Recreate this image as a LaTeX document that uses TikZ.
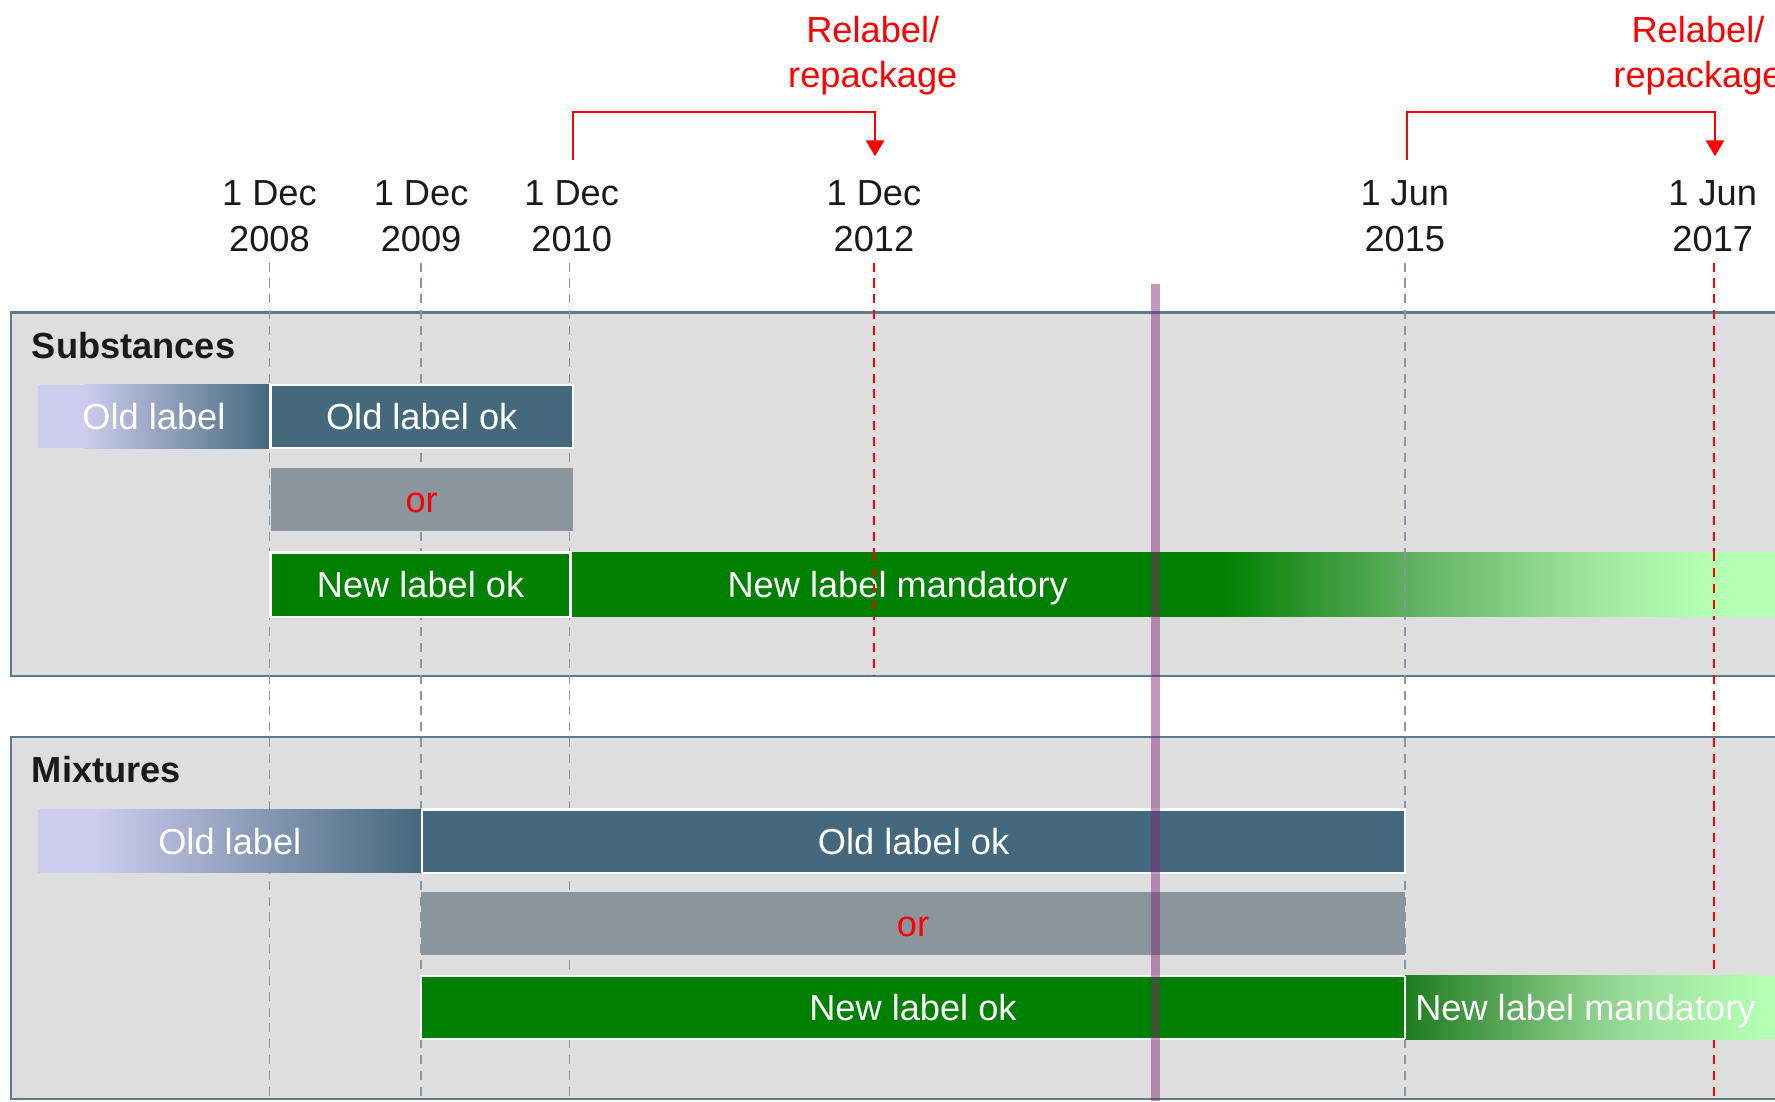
\documentclass[tikz,border=0pt]{standalone}
\usepackage{fontspec}
\setmainfont{Liberation Sans}
\usetikzlibrary{arrows.meta}

\definecolor{steel}{HTML}{44687C}
\definecolor{lav}{HTML}{CCCCEE}
\definecolor{orgray}{HTML}{8A959E}
\definecolor{okgreen}{HTML}{008000}
\definecolor{palegreen}{HTML}{B3FFB3}
\definecolor{fadeA}{RGB}{95,174,96}
\definecolor{fadeB}{RGB}{160,230,160}
\definecolor{mixA}{RGB}{30,125,30}
\definecolor{mixB}{RGB}{80,160,80}
\definecolor{mixC}{RGB}{133,204,133}
\definecolor{mixD}{RGB}{160,228,160}
\definecolor{panelfill}{HTML}{DEDEDE}
\definecolor{panelline}{HTML}{5E7B8D}
\definecolor{gridgray}{HTML}{8A97A3}
\definecolor{todaymark}{HTML}{7E2972}
\definecolor{ink}{HTML}{1A1A1A}

\begin{document}
\begin{tikzpicture}[x=1pt,y=-1pt,
  every node/.style={font=\fontsize{32}{40}\selectfont},
  panel/.style={fill=panelfill, draw=panelline, line width=2pt},
  bartext/.style={text=white, text height=28pt, text depth=5pt},
  bar/.style={rectangle, anchor=north west, inner sep=0pt, outer sep=0pt,
              minimum height=56pt, bartext},
  framed/.style={bar, draw=white, line width=2pt},
  grid/.style={draw=gridgray, line width=1.5pt, dash pattern=on 8pt off 6pt},
  redgrid/.style={draw=red, line width=1.8pt, dash pattern=on 8pt off 6pt},
  datelabel/.style={align=center, text=ink},
  relabel/.style={align=center, text=red},
  bracket/.style={draw=red, line width=2pt, -{Triangle[width=16pt,length=14pt]}},
  heading/.style={anchor=west, inner sep=0pt, font=\fontsize{32}{40}\selectfont\bfseries, text=ink}
]
\useasboundingbox (0,0) rectangle (1568,973);
\clip (0,0) rectangle (1568,973);

% panels
\draw[panel] (10,276) rectangle (1600,597);
\draw[panel] (10,651) rectangle (1600,971);

% date labels along the top
\node[datelabel] (d2008) at (238,191) {1 Dec\\2008};
\node[datelabel] (d2009) at (372,191) {1 Dec\\2009};
\node[datelabel] (d2010) at (505,191) {1 Dec\\2010};
\node[datelabel] (d2012) at (772,191) {1 Dec\\2012};
\node[datelabel] (d2015) at (1241,191) {1 Jun\\2015};
\node[datelabel] (d2017) at (1513,191) {1 Jun\\2017};

\node[relabel] (r1) at (771,49) {Relabel/\\repackage};
\node[relabel] (r2) at (1500,49) {Relabel/\\repackage};

% anchor points for the time lines and brackets
\coordinate (t2008) at (238,232);
\coordinate (t2009) at (372,232);
\coordinate (t2010) at (503,232);
\coordinate (t2012) at (772,232);
\coordinate (t2015) at (1241,232);
\coordinate (t2017) at (1514,232);
\coordinate (bottom) at (0,973);
\coordinate (subbottom) at (0,597);
\coordinate (mandtop) at (0,488);
\coordinate (mandbot) at (0,545);

\coordinate (b1a) at (506,141);
\coordinate (b1b) at (773,99);
\coordinate (b1c) at (773,138);
\coordinate (b2a) at (1243,141);
\coordinate (b2b) at (1515,99);
\coordinate (b2c) at (1515,138);

\draw[bracket] (b1a) |- (b1b) -- (b1c);
\draw[bracket] (b2a) |- (b2b) -- (b2c);

% time lines
\foreach \t in {t2008,t2009,t2010,t2015}
  \draw[grid] (\t) -- (\t |- bottom);
\draw[redgrid] (t2012) -- (t2012 |- subbottom);
\draw[redgrid] (t2017) -- (t2017 |- bottom);

% headings
\node[heading] (hsub) at (28,305) {Substances};
\node[heading] (hmix) at (28,680) {Mixtures};

% ---- Substances ----
\fill[lav] (34,340) rectangle (75,396);
\shade[left color=lav, right color=steel] (74,340) rectangle (239,396);
\node[bartext] (sold) at (136,368) {Old label};

\node[framed, fill=steel, minimum width=267pt] (sok) at (239,340) {Old label ok};
\node[bar, fill=orgray, minimum width=267pt] (sor) at (239,413) {\color{red}or};

\fill[okgreen] (504,488) rectangle (1080,545);
\shade[left color=okgreen, right color=fadeA] (1078,488) rectangle (1242,545);
\shade[left color=fadeA, right color=fadeB] (1241,488) rectangle (1409,545);
\shade[left color=fadeB, right color=palegreen] (1408,488) rectangle (1504,545);
\fill[palegreen] (1503,488) rectangle (1600,545);
\node[framed, fill=okgreen, minimum width=265pt, minimum height=57pt] (snew) at (239,488) {New label ok};
\node[bartext] (smand) at (793,516) {New label mandatory};

% time lines crossing the mandatory bar
\draw[redgrid] (t2012 |- mandtop) -- (t2012 |- mandbot);
\draw[grid] (t2015 |- mandtop) -- (t2015 |- mandbot);
\draw[redgrid] (t2017 |- mandtop) -- (t2017 |- mandbot);

% ---- Mixtures ----
\fill[lav] (34,715) rectangle (86,771);
\shade[left color=lav, right color=steel] (85,715) rectangle (373,771);
\node[bartext] (mold) at (203,743) {Old label};

\node[framed, fill=steel, minimum width=868pt] (mok) at (373,715) {Old label ok};
\node[bar, fill=orgray, minimum width=869pt] (mor) at (372,788) {\color{red}or};
\node[framed, fill=okgreen, minimum width=869pt] (mnew) at (372,862) {New label ok};

\shade[left color=mixA, right color=mixB] (1241,862) rectangle (1316,918);
\shade[left color=mixB, right color=mixC] (1315,862) rectangle (1399,918);
\shade[left color=mixC, right color=mixD] (1398,862) rectangle (1459,918);
\shade[left color=mixD, right color=palegreen] (1458,862) rectangle (1557,918);
\fill[palegreen] (1556,862) rectangle (1600,918);
\draw[white, line width=1.5pt] (1241,862) -- (1241,918);
\node[bartext, anchor=west, inner sep=0pt] (mmand) at (1250,890) {New label mandatory};

% current-date marker
\fill[todaymark, opacity=0.48] (1017,251) rectangle (1025,973);
\end{tikzpicture}
\end{document}
